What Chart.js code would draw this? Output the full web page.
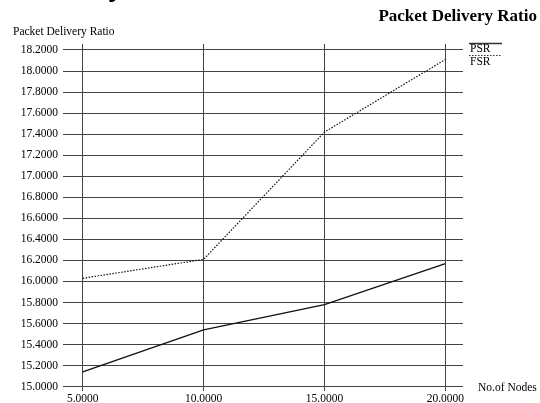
<!DOCTYPE html>
<html><head><meta charset="utf-8">
<script src="https://cdn.jsdelivr.net/npm/chart.js@4"></script>
<style>html,body{margin:0;padding:0;background:#fff}#wrap{width:540px;height:403px;position:relative}</style>
</head><body><div id="wrap"><canvas id="c" width="540" height="403"></canvas></div>
<script>
const nodes = [5, 10, 15, 20];
const psr = [15.14, 15.54, 15.78, 16.17];
const fsr = [16.03, 16.21, 17.42, 18.11];
const xTicks = [5, 10, 15, 20];
const yTicks = [15.0,15.2,15.4,15.6,15.8,16.0,16.2,16.4,16.6,16.8,17.0,17.2,17.4,17.6,17.8,18.0,18.2];
const titleText = "Packet Delivery Ratio";
const yTitle = "Packet Delivery Ratio";
const xTitle = "No.of Nodes";
const seriesNames = ["PSR", "FSR"];

const SERIF = "'Liberation Serif', 'DejaVu Serif', serif";

const textPlugin = {
  id: 'texts',
  afterDraw(chart) {
    const ctx = chart.ctx;
    const ys = chart.scales.y;
    ctx.save();
    ctx.fillStyle = '#000';
    ctx.font = "bold 26px 'Liberation Sans', sans-serif";
    ctx.textAlign = 'left'; ctx.textBaseline = 'alphabetic';
    ctx.fillText('y', 108, -3);
    ctx.font = "bold 17px " + SERIF;
    ctx.textAlign = 'right'; ctx.textBaseline = 'middle';
    ctx.fillText(titleText, 537, 17);
    ctx.font = "11.5px " + SERIF;
    ctx.textAlign = 'left';
    ctx.fillText(yTitle, 13, 32);
    ctx.fillText(xTitle, 478, ys.getPixelForValue(15.0) + 1);
    const lx0 = 469, lx1 = 502;
    ctx.strokeStyle = '#333';
    ctx.lineWidth = 1.5;
    ctx.setLineDash([]);
    ctx.beginPath(); ctx.moveTo(lx0, 43.5); ctx.lineTo(lx1, 43.5); ctx.stroke();
    ctx.fillText(seriesNames[0], 470, 49);
    ctx.setLineDash([1.5, 1.5]);
    ctx.lineWidth = 1;
    ctx.beginPath(); ctx.moveTo(lx0, 55.5); ctx.lineTo(lx1, 55.5); ctx.stroke();
    ctx.setLineDash([]);
    ctx.fillText(seriesNames[1], 470, 62);
    ctx.restore();
  }
};

new Chart(document.getElementById('c'), {
  type: 'line',
  data: {
    datasets: [
      { label: seriesNames[0], data: nodes.map((n, i) => ({x: n, y: psr[i]})),
        borderColor: '#111', borderWidth: 1.4, pointRadius: 0, tension: 0, fill: false },
      { label: seriesNames[1], data: nodes.map((n, i) => ({x: n, y: fsr[i]})),
        borderColor: '#111', borderWidth: 1.2, borderDash: [1.5, 1.5], pointRadius: 0, tension: 0, fill: false }
    ]
  },
  options: {
    responsive: false,
    animation: false,
    devicePixelRatio: 1,
    layout: { padding: { top: 44, right: 77, left: 0, bottom: 0 } },
    plugins: { legend: { display: false }, title: { display: false }, tooltip: { enabled: false } },
    scales: {
      x: {
        type: 'linear', min: 4.185, max: 20.73,
        afterBuildTicks: s => { s.ticks = xTicks.map(v => ({value: v})); },
        afterFit: s => { s.height = 11; },
        grid: { color: '#444', lineWidth: 1, drawTicks: false },
        border: { display: false },
        ticks: { padding: 1, color: '#000', font: { family: SERIF, size: 11.5 },
          callback: v => Number(v).toFixed(4), maxRotation: 0, autoSkip: false }
      },
      y: {
        type: 'linear', min: 14.958, max: 18.257,
        afterBuildTicks: s => { s.ticks = yTicks.map(v => ({value: v})); },
        afterFit: s => { s.width = 63; },
        grid: { color: '#444', lineWidth: 1, drawTicks: false },
        border: { display: false },
        ticks: { padding: 5, color: '#000', font: { family: SERIF, size: 11.5 },
          callback: v => Number(v).toFixed(4), autoSkip: false }
      }
    }
  },
  plugins: [textPlugin]
});
</script>
</body></html>
